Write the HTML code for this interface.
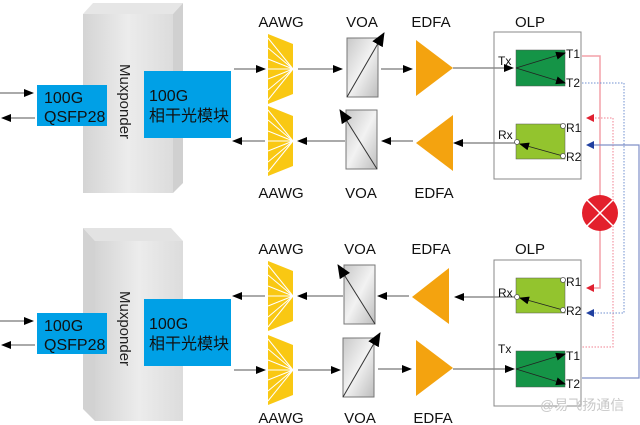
<!DOCTYPE html>
<html><head><meta charset="utf-8"><style>
body{margin:0;background:#fff}
svg{display:block;font-family:"Liberation Sans","Noto Sans CJK SC",sans-serif}
</style></head><body>
<svg width="640" height="425" viewBox="0 0 640 425">
<defs>
<linearGradient id="mx" x1="0" x2="1"><stop offset="0" stop-color="#d4d4d4"/><stop offset="0.5" stop-color="#ececec"/><stop offset="1" stop-color="#dcdcdc"/></linearGradient>
<linearGradient id="vo" x1="0" y1="0" x2="1" y2="1"><stop offset="0" stop-color="#c8c8c8"/><stop offset="0.5" stop-color="#f2f2f2"/><stop offset="1" stop-color="#bdbdbd"/></linearGradient>
<marker id="ah" markerWidth="10" markerHeight="8" refX="9" refY="4" orient="auto" markerUnits="userSpaceOnUse"><path d="M0,0 L10,4 L0,8 z" fill="#000"/></marker>
<marker id="ahb" markerWidth="14" markerHeight="12" refX="13" refY="6" orient="auto" markerUnits="userSpaceOnUse"><path d="M0,0 L14,6 L0,12 z" fill="#000"/></marker>
<g id="aawg"><polygon points="0,0 25,10 25,60 0,70" fill="#f9c813"/>
<g stroke="#fff" stroke-width="1"><line x1="25" y1="35" x2="0" y2="4"/><line x1="25" y1="35" x2="0" y2="14"/><line x1="25" y1="35" x2="0" y2="25"/><line x1="25" y1="35" x2="0" y2="35"/><line x1="25" y1="35" x2="0" y2="45"/><line x1="25" y1="35" x2="0" y2="56"/><line x1="25" y1="35" x2="0" y2="66"/></g></g>
<g id="voaU"><rect x="0" y="0" width="31" height="59" fill="url(#vo)" stroke="#777"/><line x1="0" y1="59" x2="37" y2="-5" stroke="#333" stroke-width="1" marker-end="url(#ahb)"/></g>
<g id="voaD"><rect x="0" y="0" width="31" height="59" fill="url(#vo)" stroke="#777"/><line x1="31" y1="59" x2="-6" y2="0" stroke="#333" stroke-width="1" marker-end="url(#ahb)"/></g>
</defs>

<polygon points="83,14 93,3 183,3 173,14" fill="#e6e6e6"/>
<polygon points="173,14 183,3 183,183 173,193" fill="#d0d0d0"/>
<rect x="83" y="14" width="90" height="179" fill="url(#mx)"/>
<text transform="translate(120,64) rotate(90)" font-size="15" fill="#222">Muxponder</text>
<polygon points="83,228 171,228 183,241 95,241" fill="#e3e3e3"/>
<polygon points="83,228 95,241 95,421 83,409" fill="#d2d2d2"/>
<rect x="95" y="241" width="88" height="180" fill="url(#mx)"/>
<text transform="translate(120,291) rotate(90)" font-size="15" fill="#222">Muxponder</text>

<g font-size="16" fill="#111">
<rect x="37" y="85" width="70" height="41" fill="#00a0e6"/><text x="44" y="103">100G</text><text x="44" y="122">QSFP28</text>
<rect x="144" y="71" width="87" height="67" fill="#00a0e6"/><text x="149" y="101">100G</text><text x="149" y="121">相干光模块</text>
<rect x="37" y="313" width="70" height="41" fill="#00a0e6"/><text x="44" y="331">100G</text><text x="44" y="350">QSFP28</text>
<rect x="144" y="299" width="87" height="67" fill="#00a0e6"/><text x="149" y="329">100G</text><text x="149" y="349">相干光模块</text>
</g>

<g stroke="#555" stroke-width="1" fill="none">
<line x1="0" y1="93" x2="33" y2="93" marker-end="url(#ah)"/>
<line x1="35" y1="118" x2="2" y2="118" marker-end="url(#ah)"/>
<line x1="0" y1="321" x2="33" y2="321" marker-end="url(#ah)"/>
<line x1="35" y1="345" x2="2" y2="345" marker-end="url(#ah)"/>
<line x1="234" y1="69" x2="265" y2="69" marker-end="url(#ah)"/>
<line x1="265" y1="141" x2="233" y2="141" marker-end="url(#ah)"/>
<line x1="265" y1="296" x2="233" y2="296" marker-end="url(#ah)"/>
<line x1="234" y1="370" x2="265" y2="370" marker-end="url(#ah)"/>
<line x1="298" y1="69" x2="342" y2="69" marker-end="url(#ah)"/>
<line x1="345" y1="141" x2="298" y2="141" marker-end="url(#ah)"/>
<line x1="343" y1="296" x2="298" y2="296" marker-end="url(#ah)"/>
<line x1="298" y1="370" x2="340" y2="370" marker-end="url(#ah)"/>
<line x1="381" y1="69" x2="412" y2="69" marker-end="url(#ah)"/>
<line x1="413" y1="141" x2="382" y2="141" marker-end="url(#ah)"/>
<line x1="409" y1="296" x2="378" y2="296" marker-end="url(#ah)"/>
<line x1="378" y1="369" x2="411" y2="369" marker-end="url(#ah)"/>
<line x1="453" y1="68" x2="513" y2="68" marker-end="url(#ah)"/>
<line x1="516" y1="143" x2="454" y2="143" marker-end="url(#ah)"/>
<line x1="516" y1="297" x2="455" y2="297" marker-end="url(#ah)"/>
<line x1="453" y1="369" x2="514" y2="369" marker-end="url(#ah)"/>
</g>

<use href="#aawg" x="268" y="34"/><use href="#aawg" x="268" y="106"/>
<use href="#aawg" x="268" y="261"/><use href="#aawg" x="268" y="335"/>

<use href="#voaU" x="347" y="38"/><use href="#voaD" x="346" y="110"/>
<use href="#voaD" x="344" y="265"/><use href="#voaU" x="343" y="338"/>

<g fill="#f4a30f">
<polygon points="416,40 416,96 453,68"/>
<polygon points="453,115 453,171 416,143"/>
<polygon points="449,268 449,324 412,297"/>
<polygon points="416,340 416,396 453,368"/>
</g>

<g font-size="15" fill="#111" text-anchor="middle">
<text x="281" y="27">AAWG</text><text x="281" y="198">AAWG</text>
<text x="281" y="254">AAWG</text><text x="281" y="423">AAWG</text>
<text x="362" y="27">VOA</text><text x="361" y="198">VOA</text>
<text x="360" y="254">VOA</text><text x="360" y="423">VOA</text>
<text x="431" y="27">EDFA</text><text x="434" y="198">EDFA</text>
<text x="431" y="254">EDFA</text><text x="433" y="423">EDFA</text>
<text x="530" y="27">OLP</text><text x="530" y="254">OLP</text>
</g>

<rect x="494" y="32" width="87" height="147" fill="none" stroke="#888"/>
<rect x="494" y="260" width="87" height="146" fill="none" stroke="#888"/>
<rect x="516" y="50" width="49" height="36" fill="#159447" stroke="#555" stroke-width=".5"/>
<rect x="516" y="124" width="49" height="35" fill="#93c42e" stroke="#555" stroke-width=".5"/>
<rect x="516" y="278" width="49" height="35" fill="#93c42e" stroke="#555" stroke-width=".5"/>
<rect x="516" y="351" width="49" height="36" fill="#159447" stroke="#555" stroke-width=".5"/>
<g stroke="#222" stroke-width=".8">
<line x1="516" y1="68" x2="565" y2="53" marker-end="url(#ah)"/><line x1="516" y1="68" x2="565" y2="83" marker-end="url(#ah)"/>
<line x1="563" y1="156" x2="520" y2="144" marker-end="url(#ah)"/>
<line x1="563" y1="310" x2="520" y2="298" marker-end="url(#ah)"/>
<line x1="516" y1="369" x2="565" y2="354" marker-end="url(#ah)"/><line x1="516" y1="369" x2="565" y2="384" marker-end="url(#ah)"/>
</g>
<g fill="#fff" stroke="#555" stroke-width=".8">
<circle cx="517" cy="142" r="2.5"/><circle cx="563" cy="126" r="2.5"/><circle cx="563" cy="156" r="2.5"/>
<circle cx="517" cy="297" r="2.5"/><circle cx="563" cy="280" r="2.5"/><circle cx="563" cy="310" r="2.5"/>
</g>
<g font-size="12" fill="#111">
<text x="498" y="65">Tx</text><text x="566" y="58">T1</text><text x="566" y="87">T2</text>
<text x="498" y="139">Rx</text><text x="566" y="132">R1</text><text x="566" y="161">R2</text>
<text x="498" y="297">Rx</text><text x="566" y="286">R1</text><text x="566" y="315">R2</text>
<text x="498" y="353">Tx</text><text x="566" y="360">T1</text><text x="566" y="388">T2</text>
</g>

<polyline points="582,56 600,56 600,288 592,288" fill="none" stroke="#f4a0a8" stroke-width="1.5"/>
<polygon points="586,288 594,284 594,292" fill="#e02030"/>
<polyline points="592,118 613,118 613,347 582,347" fill="none" stroke="#f08090" stroke-width="1" stroke-dasharray="1.5,1.5"/>
<polygon points="586,118 594,114 594,122" fill="#e02030"/>
<polyline points="582,83 624,83 624,313 592,313" fill="none" stroke="#7090d0" stroke-width="1" stroke-dasharray="1.5,1.5"/>
<polygon points="586,313 594,309 594,317" fill="#2040a0"/>
<polyline points="592,145 639,145 639,378 582,378" fill="none" stroke="#8090c8" stroke-width="1.2"/>
<polygon points="586,145 594,141 594,149" fill="#2040a0"/>
<circle cx="600" cy="213" r="18" fill="#e3202c"/>
<g stroke="#fff" stroke-width="1.5"><line x1="587" y1="200" x2="613" y2="226"/><line x1="613" y1="200" x2="587" y2="226"/></g>

<text x="540" y="410" font-size="14" fill="#c8c8c8">@易飞扬通信</text>
</svg>
</body></html>
